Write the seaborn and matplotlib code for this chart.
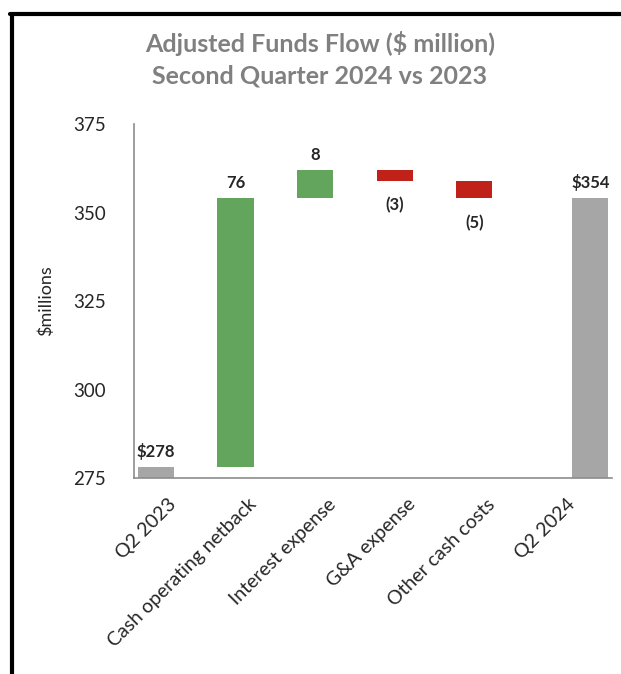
import numpy as np
import matplotlib.pyplot as plt
from matplotlib.lines import Line2D
import seaborn as sns

# data ($ million)
categories = ["Q2 2023", "Cash operating netback", "Interest expense",
              "G&A expense", "Other cash costs", "Q2 2024"]
start_value = 278
changes = [76, 8, -3, -5]
end_value = 354
value_labels = ["$278", "76", "8", "(3)", "(5)", "$354"]

green = "#63a55c"
red = "#c0221a"
grey = "#a6a6a6"
axis_grey = "#8c8c8c"

sns.set_style("white")
plt.rcParams["font.family"] = ["Lato", "DejaVu Sans"]

# floating bar geometry from running totals
running = start_value + np.cumsum([0] + changes)
bottoms = [0] + [min(running[i], running[i + 1]) for i in range(len(changes))] + [0]
heights = [start_value] + [abs(c) for c in changes] + [end_value]
colors = [grey] + [green if c > 0 else red for c in changes] + [grey]

width = 0.455
xpos = np.arange(len(categories))
# first five bars sit in the left slot of the category, the last in the right slot
offsets = np.array([-width / 2] * (len(categories) - 1) + [width / 2])

fig = plt.figure(figsize=(6.21, 6.74), dpi=100)
ax = fig.add_axes([0.2158, 0.2908, 0.7697, 0.5252])

ax.bar(xpos + offsets, heights, width=width, bottom=bottoms, color=colors,
       edgecolor="none", zorder=2)

ax.set_ylim(275, 375)
ax.set_xlim(-0.5, 5.5)
ax.set_yticks([275, 300, 325, 350, 375])
ax.set_xticks(xpos)
ax.set_xticklabels(categories, rotation=45, ha="right", va="center",
                   rotation_mode="anchor", fontsize=14)
ax.tick_params(axis="y", labelsize=13.5, length=6.5, width=1, color=axis_grey,
               direction="out", pad=14)
ax.tick_params(axis="x", length=7, width=1, color=axis_grey, direction="out", pad=10)

sns.despine(ax=ax)
for side in ["left", "bottom"]:
    ax.spines[side].set_color(axis_grey)
    ax.spines[side].set_linewidth(1.2)

ax.set_ylabel("$millions", fontsize=13)
ax.yaxis.set_label_coords(-0.168, 0.5)

# value labels: above rising / total bars, below falling ones
for i, lab in enumerate(value_labels):
    top = bottoms[i] + heights[i]
    xc = xpos[i] + offsets[i]
    if 0 < i < len(categories) - 1 and changes[i - 1] < 0:
        ax.annotate(lab, (xc, bottoms[i]), xytext=(0, -12), textcoords="offset points",
                    ha="center", va="top", fontsize=12, fontweight="bold")
    else:
        ax.annotate(lab, (xc, top), xytext=(0, 5), textcoords="offset points",
                    ha="center", va="bottom", fontsize=12, fontweight="bold")

fig.text(320 / 621, 1 - 44 / 674, "Adjusted Funds Flow ($ million)", ha="center",
         va="center", fontsize=18, fontweight="bold", color="#808080")
fig.text(320 / 621, 1 - 76 / 674, "Second Quarter 2024 vs 2023", ha="center",
         va="center", fontsize=18, fontweight="bold", color="#808080")

# black frame on the left and top like the source slide
fig.add_artist(Line2D([12 / 621, 12 / 621], [0, 1 - 14 / 674], color="black",
                      linewidth=3, transform=fig.transFigure))
fig.add_artist(Line2D([10 / 621, 1], [1 - 14 / 674, 1 - 14 / 674], color="black",
                      linewidth=3, transform=fig.transFigure))

fig.savefig("out.png", dpi=100)
